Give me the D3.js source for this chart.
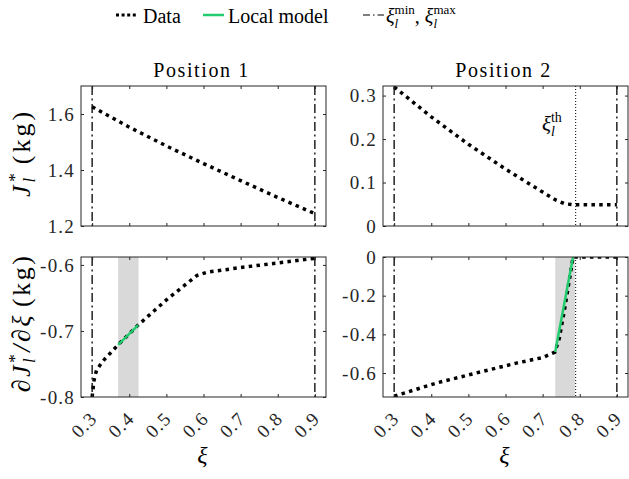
<!DOCTYPE html>
<html>
<head>
<meta charset="utf-8">
<script src="https://cdn.jsdelivr.net/npm/d3@7"></script>
<style>
  body { margin: 0; background: #fff; }
</style>
</head>
<body>
<svg id="chart" width="629" height="479"></svg>
<script>
// ---- data ----
var xiTicks = [0.3, 0.4, 0.5, 0.6, 0.7, 0.8, 0.9];
var xiBounds = [0.3, 0.9];          // xi_min, xi_max
var xiThreshold = 0.789;            // xi_th, position 2

// Position 1
var xi1 = [0.3, 0.4, 0.5, 0.6, 0.7, 0.8, 0.9];
var J1 = [1.626, 1.553, 1.486, 1.423, 1.362, 1.302, 1.244];
var xi1d = [0.3, 0.305, 0.312, 0.33, 0.35, 0.37, 0.424, 0.5, 0.582, 0.61, 0.7, 0.8, 0.9];
var dJ1 = [-0.8, -0.775, -0.759, -0.745, -0.733, -0.721, -0.691, -0.653, -0.616, -0.611, -0.604, -0.597, -0.59];
var local1 = {xi: [0.37, 0.424], v: [-0.721, -0.691]};
var shade1 = [0.37, 0.425];

// Position 2
var xi2 = [0.3, 0.4, 0.5, 0.6, 0.7, 0.735, 0.76, 0.785, 0.9];
var J2 = [0.32, 0.251, 0.188, 0.131, 0.078, 0.06, 0.051, 0.049, 0.049];
var xi2d = [0.3, 0.4135, 0.521, 0.629, 0.7, 0.733, 0.745, 0.76, 0.772, 0.782, 0.79, 0.9];
var dJ2 = [-0.72, -0.652, -0.6, -0.549, -0.52, -0.492, -0.42, -0.26, -0.12, 0, 0, 0];
var local2 = {xi: [0.734, 0.782], v: [-0.49, 0]};
var shade2 = [0.734, 0.787];

var yTicks1 = [1.2, 1.4, 1.6];
var yTicks2 = [0, 0.1, 0.2, 0.3];
var yTicks3 = [-0.8, -0.7, -0.6];
var yTicks4 = [-0.6, -0.4, -0.2, 0];

// ---- layout ----
var svg = d3.select("#chart");
var pw = 245, ph = 140;
var green = "#22cc6e", axisCol = "#262626";
var dashDot = "9,3.5,2,3.5";
var serif = "Liberation Serif";

function panel(opt) {
  var g = svg.append("g").attr("transform", "translate(" + opt.left + "," + opt.top + ")");
  var x = d3.scaleLinear().domain([0.27, 0.93]).range([0, pw]);
  var y = d3.scaleLinear().domain(opt.yDomain).range([ph, 0]);

  var clipId = "clip" + opt.id;
  g.append("clipPath").attr("id", clipId)
    .append("rect").attr("width", pw).attr("height", ph);
  var plot = g.append("g").attr("clip-path", "url(#" + clipId + ")");

  if (opt.shade) {
    plot.append("rect")
      .attr("x", x(opt.shade[0])).attr("width", x(opt.shade[1]) - x(opt.shade[0]))
      .attr("y", 0).attr("height", ph)
      .attr("fill", "#d9d9d9");
  }

  plot.selectAll(".bound").data(xiBounds).enter().append("line")
    .attr("x1", x).attr("x2", x).attr("y1", 0).attr("y2", ph)
    .attr("stroke", "#000").attr("stroke-width", 1.3)
    .attr("stroke-dasharray", dashDot);

  if (opt.threshold) {
    plot.append("line")
      .attr("x1", x(xiThreshold)).attr("x2", x(xiThreshold))
      .attr("y1", 0).attr("y2", ph)
      .attr("stroke", "#000").attr("stroke-width", 1)
      .attr("stroke-dasharray", "1,2");
  }

  var line = d3.line().x(function(d) { return x(d[0]); }).y(function(d) { return y(d[1]); });

  plot.append("path")
    .datum(d3.zip(opt.xs, opt.vs))
    .attr("d", line)
    .attr("fill", "none").attr("stroke", "#000")
    .attr("stroke-width", 3.5).attr("stroke-dasharray", "3.5,4.3");

  if (opt.local) {
    plot.append("path")
      .datum(d3.zip(opt.local.xi, opt.local.v))
      .attr("d", line)
      .attr("fill", "none").attr("stroke", green).attr("stroke-width", 2.5);
  }

  // ticks on all four sides, pointing inwards
  var bottom = g.append("g").attr("transform", "translate(0," + ph + ")")
    .call(d3.axisBottom(x).tickValues(xiTicks).tickSize(-3).tickFormat(String));
  g.append("g").call(d3.axisTop(x).tickValues(xiTicks).tickSize(-3).tickFormat(""));
  var left = g.append("g")
    .call(d3.axisLeft(y).tickValues(opt.yTicks).tickSize(-3).tickPadding(6).tickFormat(String));
  g.append("g").attr("transform", "translate(" + pw + ",0)")
    .call(d3.axisRight(y).tickValues(opt.yTicks).tickSize(-3).tickFormat(""));

  g.selectAll(".domain").remove();
  g.selectAll(".tick line").attr("stroke", axisCol);

  left.selectAll("text")
    .attr("fill", axisCol).attr("font-size", 19).attr("letter-spacing", 1.2);

  if (opt.xLabels) {
    bottom.selectAll("text")
      .attr("x", 0).attr("y", 0).attr("dy", "0.35em")
      .attr("transform", "translate(1,18) rotate(-45)")
      .attr("text-anchor", "end")
      .attr("fill", axisCol).attr("font-size", 19).attr("letter-spacing", 1.2);
  } else {
    bottom.selectAll("text").remove();
  }

  g.append("rect").attr("width", pw).attr("height", ph)
    .attr("fill", "none").attr("stroke", axisCol).attr("stroke-width", 1);

  return {g: g, x: x, y: y};
}

panel({id: 1, left: 81, top: 86, yDomain: [1.2, 1.7], yTicks: yTicks1, xs: xi1, vs: J1});
panel({id: 2, left: 383, top: 86, yDomain: [0, 0.322], yTicks: yTicks2, xs: xi2, vs: J2, threshold: true});
panel({id: 3, left: 81, top: 257, yDomain: [-0.8, -0.588], yTicks: yTicks3, xs: xi1d, vs: dJ1,
  local: local1, shade: shade1, xLabels: true});
panel({id: 4, left: 383, top: 257, yDomain: [-0.724, 0], yTicks: yTicks4, xs: xi2d, vs: dJ2,
  local: local2, shade: shade2, threshold: true, xLabels: true});

// titles
[["Position 1", 81], ["Position 2", 383]].forEach(function(t) {
  svg.append("text").attr("x", t[1] + pw / 2 - 2).attr("y", 77)
    .attr("text-anchor", "middle").attr("font-size", 20).attr("letter-spacing", 1.6)
    .text(t[0]);
});

// x labels
[81, 383].forEach(function(l) {
  svg.append("text").attr("x", l + pw / 2 - 1).attr("y", 463)
    .attr("text-anchor", "middle").attr("font-size", 24).attr("font-style", "italic")
    .text("ξ");
});

// y labels
var yl1 = svg.append("text").attr("transform", "translate(30,153) rotate(-90)")
  .attr("text-anchor", "middle").attr("font-size", 26).attr("letter-spacing", 3);
yl1.append("tspan").attr("font-style", "italic").text("J");
yl1.append("tspan").attr("dy", 5).attr("font-size", 17).attr("font-style", "italic").text("l");
yl1.append("tspan").attr("dx", -7).attr("dy", -15).attr("font-size", 17).text("*");
yl1.append("tspan").attr("dx", 6).attr("dy", 10).text("(kg)");

var yl2 = svg.append("text").attr("transform", "translate(30,323) rotate(-90)")
  .attr("text-anchor", "middle").attr("font-size", 26).attr("letter-spacing", 2.5);
yl2.append("tspan").attr("font-style", "italic").text("∂J");
yl2.append("tspan").attr("dy", 5).attr("font-size", 17).attr("font-style", "italic").text("l");
yl2.append("tspan").attr("dx", -7).attr("dy", -15).attr("font-size", 17).text("*");
yl2.append("tspan").attr("dy", 10).attr("font-style", "italic").text("/∂ξ");
yl2.append("tspan").attr("dx", 6).text("(kg)");

// threshold label
var th = svg.append("text").attr("x", 542).attr("y", 131).attr("font-size", 21);
th.append("tspan").attr("font-style", "italic").text("ξ");
th.append("tspan").attr("dy", 5).attr("font-size", 14).attr("font-style", "italic").text("l");
th.append("tspan").attr("dx", -4).attr("dy", -14).attr("font-size", 14).text("th");

// legend
var lg = svg.append("g");
lg.append("line").attr("x1", 116).attr("x2", 136).attr("y1", 15).attr("y2", 15)
  .attr("stroke", "#000").attr("stroke-width", 3).attr("stroke-dasharray", "3,2.6");
lg.append("text").attr("x", 143).attr("y", 23).attr("font-size", 20).text("Data");
lg.append("line").attr("x1", 203).attr("x2", 224).attr("y1", 15).attr("y2", 15)
  .attr("stroke", green).attr("stroke-width", 2.5);
lg.append("text").attr("x", 228).attr("y", 23).attr("font-size", 20).text("Local model");
lg.append("line").attr("x1", 363).attr("x2", 384).attr("y1", 15).attr("y2", 15)
  .attr("stroke", "#000").attr("stroke-width", 1.2).attr("stroke-dasharray", "7,3,1.5,3");
var lt = lg.append("text").attr("x", 386).attr("y", 23).attr("font-size", 20);
lt.append("tspan").attr("font-style", "italic").text("ξ");
lt.append("tspan").attr("dy", 5).attr("font-size", 13).attr("font-style", "italic").text("l");
lt.append("tspan").attr("dx", -3.6).attr("dy", -14).attr("font-size", 13).text("min");
lt.append("tspan").attr("dy", 9).text(", ");
lt.append("tspan").attr("font-style", "italic").text("ξ");
lt.append("tspan").attr("dy", 5).attr("font-size", 13).attr("font-style", "italic").text("l");
lt.append("tspan").attr("dx", -3.6).attr("dy", -14).attr("font-size", 13).text("max");

svg.selectAll("text").attr("font-family", serif);
</script>
</body>
</html>
